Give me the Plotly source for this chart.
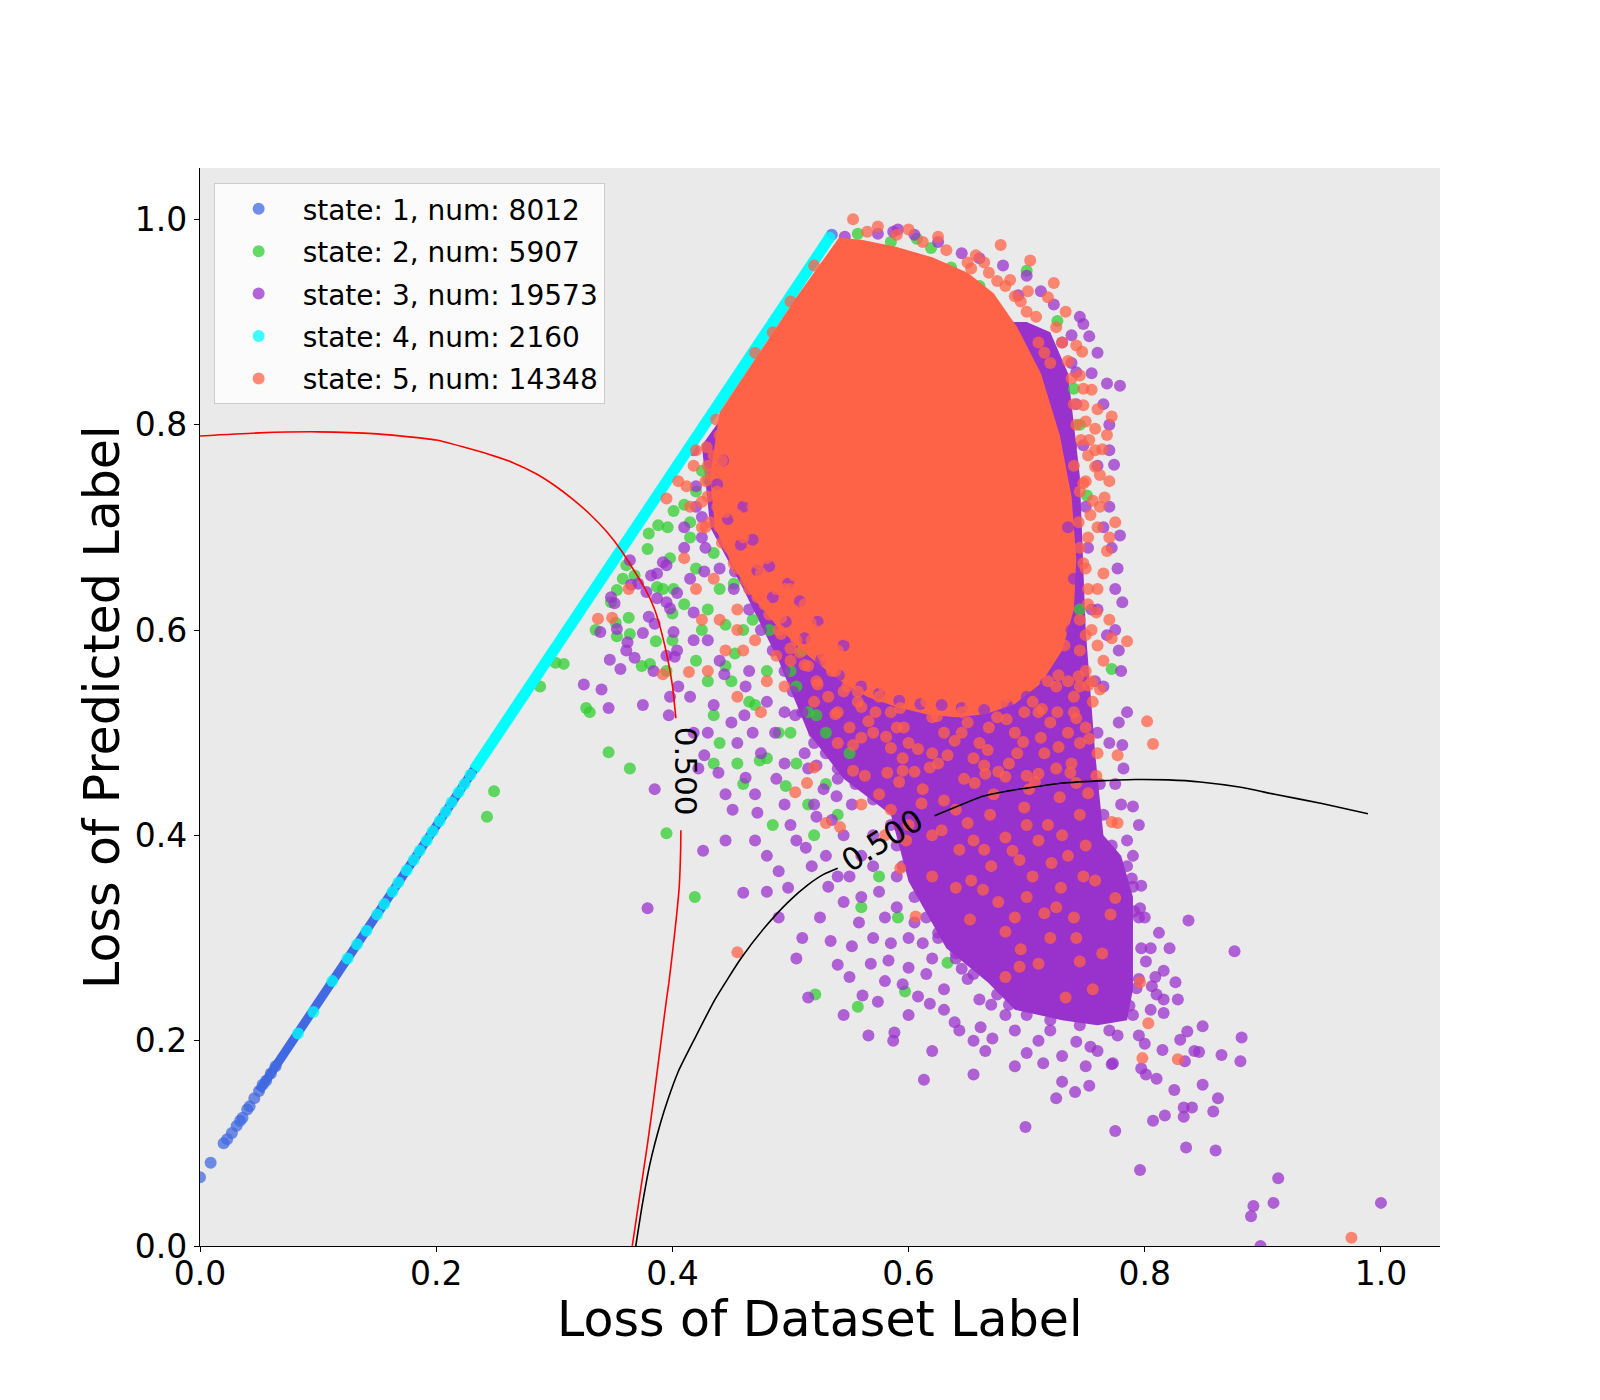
import plotly.graph_objects as go

FONT = "DejaVu Sans"

# legend text
state_ids = [1, 2, 3, 4, 5]
state_counts = [8012, 5907, 19573, 2160, 14348]

# axis ticks and titles
tick_vals = [0.0, 0.2, 0.4, 0.6, 0.8, 1.0]
tick_labels = ["0.0", "0.2", "0.4", "0.6", "0.8", "1.0"]
x_title = "Loss of Dataset Label"
y_title = "Loss of Predicted Label"

# ---- state 1 (blue): dense band on the diagonal + sparse points at its low end
s1_band_x = [0.050, 0.533]
s1_band_y = [0.151, 0.982]
s1_pts = [
    (0.000, 0.067), (0.009, 0.081), (0.020, 0.100), (0.023, 0.104), (0.027, 0.110),
    (0.031, 0.117), (0.034, 0.122), (0.036, 0.125), (0.040, 0.133), (0.042, 0.136),
    (0.046, 0.144), (0.050, 0.151), (0.053, 0.157), (0.056, 0.161), (0.060, 0.168),
    (0.064, 0.175), (0.535, 0.985),
]

# ---- state 2 (green)
s2_pts = [
    (0.243, 0.418), (0.249, 0.443), (0.288, 0.545), (0.301, 0.568), (0.308, 0.567),
    (0.327, 0.524), (0.330, 0.520), (0.335, 0.600), (0.346, 0.481), (0.364, 0.465),
    (0.352, 0.607), (0.353, 0.594), (0.363, 0.612), (0.364, 0.596), (0.348, 0.627),
    (0.353, 0.639), (0.358, 0.650), (0.368, 0.653), (0.361, 0.663), (0.374, 0.565),
    (0.381, 0.567), (0.386, 0.589), (0.387, 0.642), (0.401, 0.640), (0.400, 0.616),
    (0.400, 0.590), (0.379, 0.679), (0.380, 0.694), (0.388, 0.702), (0.396, 0.700),
    (0.395, 0.402), (0.419, 0.340), (0.401, 0.716), (0.410, 0.722), (0.420, 0.735),
    (0.430, 0.746), (0.415, 0.705), (0.420, 0.660), (0.430, 0.620), (0.440, 0.640),
    (0.453, 0.577), (0.470, 0.527), (0.474, 0.473), (0.496, 0.448), (0.522, 0.517),
    (0.435, 0.517), (0.460, 0.600), (0.480, 0.560), (0.500, 0.500), (0.510, 0.580),
    (0.490, 0.620), (0.450, 0.550), (0.440, 0.490), (0.460, 0.450), (0.470, 0.680),
    (0.455, 0.700), (0.445, 0.605), (0.420, 0.570), (0.430, 0.550), (0.530, 0.450),
    (0.540, 0.420), (0.520, 0.400), (0.550, 0.480), (0.505, 0.470), (0.515, 0.430),
    (0.485, 0.410), (0.505, 0.635), (0.525, 0.590), (0.521, 0.245), (0.557, 0.233),
    (0.597, 0.248), (0.633, 0.276), (0.591, 0.320), (0.560, 0.330), (0.575, 0.360),
    (0.557, 0.986), (0.585, 0.978), (0.607, 0.981), (0.619, 0.972), (0.636, 0.953),
    (0.660, 0.935), (0.700, 0.950), (0.726, 0.901), (0.740, 0.835), (0.745, 0.800),
    (0.751, 0.731), (0.730, 0.660), (0.745, 0.620), (0.772, 0.562), (0.395, 0.560),
    (0.425, 0.755), (0.415, 0.690), (0.435, 0.675), (0.452, 0.645), (0.468, 0.610),
    (0.482, 0.600), (0.445, 0.565), (0.465, 0.530), (0.490, 0.500), (0.505, 0.545),
    (0.425, 0.600), (0.410, 0.625), (0.398, 0.670), (0.392, 0.640), (0.435, 0.470),
    (0.455, 0.470), (0.515, 0.520), (0.530, 0.500), (0.480, 0.475), (0.500, 0.560),
]

# ---- state 3 (purple): outline of the dense region + scattered points
s3_core_x = [0.425, 0.432, 0.460, 0.490, 0.515, 0.545, 0.585, 0.600, 0.632, 0.667,
             0.690, 0.730, 0.760, 0.785, 0.790, 0.790, 0.780, 0.765, 0.758, 0.750,
             0.745, 0.735, 0.720, 0.700, 0.600, 0.500]
s3_core_y = [0.780, 0.700, 0.640, 0.570, 0.500, 0.455, 0.420, 0.355, 0.290, 0.257,
             0.230, 0.220, 0.215, 0.220, 0.250, 0.340, 0.380, 0.400, 0.480, 0.600,
             0.750, 0.850, 0.890, 0.900, 0.900, 0.900]
s3_pts = [
    # left of the cloud, next to the diagonal
    (0.339, 0.598), (0.353, 0.601), (0.362, 0.588), (0.361, 0.580), (0.368, 0.573),
    (0.347, 0.571), (0.356, 0.562), (0.340, 0.542), (0.384, 0.560), (0.375, 0.597),
    (0.380, 0.613), (0.385, 0.606), (0.348, 0.632), (0.351, 0.626), (0.365, 0.644),
    (0.371, 0.645), (0.378, 0.637), (0.382, 0.653), (0.387, 0.655), (0.395, 0.663),
    (0.392, 0.666), (0.387, 0.631), (0.395, 0.627), (0.398, 0.621), (0.404, 0.636),
    (0.401, 0.598), (0.404, 0.580), (0.395, 0.575), (0.402, 0.574), (0.405, 0.545),
    (0.398, 0.535), (0.364, 0.668), (0.325, 0.547), (0.346, 0.524), (0.375, 0.527),
    (0.397, 0.517), (0.418, 0.500), (0.435, 0.527), (0.444, 0.557), (0.427, 0.478),
    (0.461, 0.517), (0.487, 0.500), (0.513, 0.388), (0.522, 0.418), (0.539, 0.438),
    (0.548, 0.468), (0.522, 0.468), (0.504, 0.517), (0.539, 0.517), (0.530, 0.557),
    (0.427, 0.657), (0.453, 0.657), (0.418, 0.617), (0.410, 0.680), (0.425, 0.690),
    (0.415, 0.650), (0.430, 0.590), (0.465, 0.560), (0.480, 0.530), (0.495, 0.470),
    (0.475, 0.480), (0.455, 0.490), (0.520, 0.490), (0.535, 0.480), (0.545, 0.400),
    (0.530, 0.380), (0.550, 0.360), (0.420, 0.720), (0.432, 0.745), (0.410, 0.700),
    (0.418, 0.590), (0.440, 0.570), (0.462, 0.545), (0.495, 0.520), (0.512, 0.480),
    (0.488, 0.455), (0.468, 0.500), (0.450, 0.510), (0.430, 0.500), (0.415, 0.535),
    (0.422, 0.465), (0.445, 0.440), (0.470, 0.440), (0.495, 0.430),
    # along the edge of the dense region
    (0.418, 0.775), (0.420, 0.740), (0.425, 0.710), (0.428, 0.680), (0.440, 0.660),
    (0.452, 0.640), (0.465, 0.620), (0.475, 0.600), (0.485, 0.580), (0.495, 0.560),
    (0.502, 0.540), (0.510, 0.520), (0.520, 0.500), (0.530, 0.480), (0.540, 0.465),
    (0.555, 0.450), (0.570, 0.435), (0.585, 0.410), (0.590, 0.390), (0.595, 0.370),
    (0.605, 0.340), (0.615, 0.320), (0.625, 0.300), (0.640, 0.280), (0.655, 0.265),
    (0.675, 0.245), (0.685, 0.235), (0.700, 0.225), (0.720, 0.220), (0.745, 0.215),
    (0.770, 0.210), (0.790, 0.225), (0.795, 0.260), (0.797, 0.290), (0.795, 0.320),
    (0.790, 0.350), (0.785, 0.370), (0.772, 0.390), (0.765, 0.420), (0.762, 0.450),
    (0.760, 0.500), (0.758, 0.550), (0.755, 0.620), (0.752, 0.680), (0.750, 0.720),
    (0.748, 0.780), (0.742, 0.820), (0.738, 0.860), (0.730, 0.880),
    # lower middle
    (0.379, 0.329), (0.385, 0.445), (0.460, 0.344), (0.426, 0.385), (0.451, 0.425),
    (0.439, 0.461), (0.462, 0.456), (0.472, 0.422), (0.498, 0.349), (0.534, 0.297),
    (0.540, 0.274), (0.552, 0.292), (0.568, 0.275), (0.583, 0.278), (0.600, 0.271),
    (0.515, 0.242), (0.561, 0.244), (0.574, 0.238), (0.566, 0.205), (0.588, 0.208),
    (0.587, 0.200), (0.613, 0.162), (0.608, 0.243), (0.618, 0.236), (0.639, 0.218),
    (0.643, 0.210), (0.655, 0.167), (0.661, 0.213), (0.671, 0.202), (0.682, 0.225),
    (0.700, 0.188), (0.714, 0.178), (0.741, 0.150), (0.753, 0.156), (0.742, 0.199),
    (0.754, 0.194), (0.773, 0.178), (0.699, 0.116), (0.725, 0.144), (0.620, 0.190),
    (0.630, 0.250), (0.650, 0.260), (0.660, 0.240), (0.600, 0.300), (0.620, 0.280),
    (0.580, 0.320), (0.560, 0.340), (0.540, 0.360), (0.570, 0.370), (0.590, 0.330),
    (0.645, 0.270), (0.670, 0.235), (0.690, 0.210), (0.710, 0.200), (0.730, 0.185),
    (0.720, 0.210), (0.750, 0.175), (0.760, 0.190), (0.730, 0.160), (0.510, 0.300),
    (0.490, 0.320), (0.480, 0.380), (0.500, 0.410),
    (0.515, 0.465), (0.528, 0.445), (0.540, 0.455), (0.552, 0.430), (0.535, 0.415),
    (0.520, 0.430), (0.505, 0.395), (0.518, 0.370), (0.532, 0.350), (0.545, 0.335),
    (0.558, 0.315), (0.570, 0.300), (0.585, 0.295), (0.560, 0.380), (0.570, 0.400),
    (0.575, 0.345), (0.590, 0.360), (0.605, 0.315), (0.612, 0.295), (0.625, 0.305),
    (0.640, 0.285), (0.655, 0.280), (0.615, 0.265), (0.595, 0.255), (0.580, 0.258),
    (0.550, 0.262), (0.525, 0.320), (0.490, 0.365), (0.470, 0.395), (0.480, 0.345),
    (0.445, 0.395), (0.505, 0.280), (0.545, 0.225), (0.630, 0.230), (0.665, 0.190),
    (0.690, 0.175), (0.655, 0.200), (0.600, 0.225),
    # lower right tail
    (0.837, 0.317), (0.876, 0.287), (0.821, 0.290), (0.801, 0.277), (0.816, 0.268),
    (0.826, 0.257), (0.828, 0.240), (0.816, 0.240), (0.816, 0.227), (0.849, 0.214),
    (0.882, 0.203), (0.881, 0.180), (0.865, 0.186), (0.846, 0.189), (0.842, 0.190),
    (0.836, 0.209), (0.830, 0.201), (0.834, 0.180), (0.849, 0.157), (0.862, 0.144),
    (0.858, 0.131), (0.833, 0.135), (0.840, 0.135), (0.833, 0.126), (0.825, 0.152),
    (0.817, 0.127), (0.807, 0.122), (0.810, 0.163), (0.801, 0.167), (0.797, 0.173),
    (0.772, 0.177), (0.775, 0.112), (0.796, 0.074), (0.835, 0.096), (0.860, 0.093),
    (0.913, 0.066), (0.909, 0.042), (0.892, 0.039), (0.890, 0.029), (0.898, 0.000),
    (1.000, 0.042), (0.797, 0.351), (0.789, 0.358), (0.791, 0.326), (0.796, 0.329),
    (0.787, 0.234), (0.795, 0.205), (0.800, 0.197), (0.777, 0.205), (0.793, 0.251),
    (0.809, 0.262), (0.806, 0.253), (0.815, 0.191), (0.805, 0.230), (0.810, 0.245),
    (0.805, 0.290), (0.812, 0.305), (0.800, 0.320), (0.785, 0.395), (0.795, 0.410),
    (0.780, 0.430), (0.790, 0.380),
    # right and top fringe
    (0.779, 0.838), (0.753, 0.886), (0.774, 0.761), (0.779, 0.692), (0.781, 0.627),
    (0.777, 0.660), (0.770, 0.720), (0.781, 0.488), (0.785, 0.520), (0.780, 0.560),
    (0.775, 0.600), (0.770, 0.800), (0.765, 0.820), (0.775, 0.450), (0.790, 0.428),
    (0.777, 0.313), (0.723, 0.917), (0.738, 0.887), (0.742, 0.851), (0.693, 0.926),
    (0.645, 0.967), (0.587, 0.988), (0.574, 0.986), (0.546, 0.983), (0.591, 0.990),
    (0.760, 0.760), (0.770, 0.775), (0.765, 0.700), (0.772, 0.680), (0.760, 0.620),
    (0.775, 0.640), (0.768, 0.595), (0.778, 0.580), (0.765, 0.545), (0.778, 0.510),
    (0.770, 0.490), (0.782, 0.465), (0.760, 0.870), (0.748, 0.898), (0.755, 0.850),
    (0.768, 0.840), (0.745, 0.905), (0.712, 0.930), (0.700, 0.945), (0.680, 0.955),
    (0.660, 0.962), (0.625, 0.978), (0.605, 0.985),
]
# purple points that show through the edge of the orange core
s3_peek_pts = [
    (0.438, 0.742), (0.447, 0.708), (0.458, 0.683), (0.460, 0.720), (0.472, 0.658),
    (0.468, 0.688), (0.485, 0.632), (0.482, 0.662), (0.496, 0.608), (0.498, 0.645),
    (0.512, 0.592), (0.508, 0.628), (0.526, 0.571), (0.523, 0.608), (0.541, 0.556),
    (0.545, 0.585), (0.560, 0.545), (0.575, 0.538), (0.592, 0.531), (0.610, 0.528),
    (0.628, 0.527), (0.645, 0.524), (0.664, 0.522), (0.683, 0.528), (0.700, 0.535),
    (0.716, 0.548), (0.730, 0.565), (0.738, 0.600), (0.443, 0.765), (0.735, 0.700),
    (0.738, 0.780), (0.728, 0.840), (0.740, 0.650),
]

# ---- state 4 (cyan): dense band on the diagonal + single points lower down
s4_band_x = [0.232, 0.533]
s4_band_y = [0.464, 0.982]
s4_pts = [
    (0.083, 0.207), (0.096, 0.228), (0.112, 0.258), (0.125, 0.280), (0.133, 0.294),
    (0.141, 0.307), (0.150, 0.323), (0.156, 0.333), (0.163, 0.345), (0.168, 0.354),
    (0.175, 0.366), (0.181, 0.376), (0.186, 0.385), (0.192, 0.395), (0.197, 0.404),
    (0.203, 0.414), (0.208, 0.423), (0.213, 0.432), (0.219, 0.442), (0.224, 0.450),
    (0.229, 0.459), (0.533, 0.982),
]

# ---- state 5 (orange): outline of the solid core + scattered points
s5_core_x = [0.541, 0.560, 0.590, 0.620, 0.650, 0.672, 0.692, 0.712, 0.728, 0.738,
             0.742, 0.740, 0.730, 0.712, 0.690, 0.665, 0.640, 0.615, 0.590, 0.565,
             0.540, 0.515, 0.490, 0.468, 0.450, 0.436, 0.432, 0.440, 0.505]
s5_core_y = [0.982, 0.980, 0.973, 0.963, 0.948, 0.928, 0.895, 0.850, 0.790, 0.730,
             0.670, 0.620, 0.580, 0.548, 0.528, 0.518, 0.515, 0.518, 0.525, 0.535,
             0.552, 0.575, 0.602, 0.632, 0.665, 0.700, 0.750, 0.812, 0.924]
s5_pts = [
    # top and right fringe
    (0.553, 1.000), (0.574, 0.993), (0.600, 0.990), (0.625, 0.983), (0.657, 0.965),
    (0.678, 0.975), (0.686, 0.941), (0.701, 0.930), (0.703, 0.960), (0.718, 0.924),
    (0.723, 0.938), (0.664, 0.958), (0.653, 0.952), (0.733, 0.910), (0.742, 0.877),
    (0.747, 0.871), (0.755, 0.834), (0.748, 0.819), (0.750, 0.803), (0.758, 0.796),
    (0.753, 0.785), (0.758, 0.759), (0.748, 0.743), (0.756, 0.726), (0.772, 0.808),
    (0.764, 0.776), (0.762, 0.751), (0.766, 0.729), (0.768, 0.677), (0.759, 0.617),
    (0.772, 0.592), (0.785, 0.589), (0.802, 0.511), (0.807, 0.489), (0.777, 0.478),
    (0.759, 0.458), (0.772, 0.413), (0.762, 0.542), (0.730, 0.880), (0.720, 0.860),
    (0.740, 0.760), (0.745, 0.680), (0.745, 0.580), (0.740, 0.520), (0.700, 0.910),
    (0.690, 0.925), (0.675, 0.940), (0.710, 0.880), (0.760, 0.700), (0.750, 0.660),
    (0.760, 0.640), (0.755, 0.600), (0.750, 0.560), (0.765, 0.570), (0.725, 0.895),
    (0.735, 0.862), (0.745, 0.848), (0.742, 0.800), (0.745, 0.735), (0.752, 0.690),
    (0.752, 0.640), (0.745, 0.610), (0.760, 0.585), (0.755, 0.550), (0.770, 0.610),
    (0.765, 0.655), (0.770, 0.690), (0.775, 0.705), (0.762, 0.720), (0.770, 0.745),
    (0.758, 0.775), (0.768, 0.790), (0.760, 0.815), (0.748, 0.835), (0.738, 0.845),
    (0.715, 0.870), (0.708, 0.905), (0.695, 0.920), (0.682, 0.935), (0.668, 0.948),
    (0.650, 0.958), (0.632, 0.970), (0.612, 0.978), (0.590, 0.985), (0.565, 0.988),
    (0.748, 0.665), (0.744, 0.705), (0.750, 0.745), (0.746, 0.785), (0.740, 0.820),
    (0.750, 0.595), (0.745, 0.545), (0.752, 0.625), (0.754, 0.712), (0.752, 0.770),
    # along the diagonal near the top
    (0.470, 0.870), (0.485, 0.890), (0.500, 0.920), (0.520, 0.955),
    # lower left of the core, mixed with green and purple
    (0.440, 0.790), (0.435, 0.770), (0.445, 0.750), (0.430, 0.730), (0.450, 0.720),
    (0.440, 0.700), (0.460, 0.690), (0.470, 0.710), (0.455, 0.660), (0.470, 0.640),
    (0.480, 0.670), (0.490, 0.690), (0.500, 0.640), (0.490, 0.600), (0.510, 0.610),
    (0.520, 0.600), (0.500, 0.570), (0.530, 0.570), (0.540, 0.580), (0.550, 0.550),
    (0.560, 0.570), (0.520, 0.530), (0.480, 0.550), (0.460, 0.580), (0.440, 0.610),
    (0.420, 0.640), (0.410, 0.670), (0.425, 0.700), (0.415, 0.720), (0.430, 0.760),
    (0.405, 0.745), (0.395, 0.728), (0.420, 0.775),
    (0.414, 0.559), (0.392, 0.557), (0.337, 0.611), (0.349, 0.612), (0.363, 0.640),
    (0.448, 0.780), (0.442, 0.765), (0.450, 0.740), (0.458, 0.755), (0.462, 0.730),
    (0.455, 0.712), (0.468, 0.700), (0.478, 0.685), (0.472, 0.665), (0.485, 0.650),
    (0.495, 0.640), (0.502, 0.620), (0.512, 0.625), (0.478, 0.625), (0.465, 0.640),
    (0.448, 0.680), (0.438, 0.720), (0.428, 0.700), (0.435, 0.650), (0.425, 0.610),
    (0.455, 0.600), (0.470, 0.590), (0.488, 0.575), (0.505, 0.590), (0.515, 0.565),
    (0.495, 0.545), (0.475, 0.520), (0.455, 0.535), (0.430, 0.560), (0.445, 0.580),
    (0.528, 0.600), (0.418, 0.760), (0.412, 0.740), (0.428, 0.745), (0.438, 0.735),
    (0.425, 0.725), (0.445, 0.715), (0.432, 0.705), (0.455, 0.695), (0.442, 0.685),
    (0.465, 0.675), (0.452, 0.665), (0.475, 0.655), (0.462, 0.648), (0.488, 0.640),
    (0.472, 0.632), (0.498, 0.625), (0.482, 0.615), (0.508, 0.605), (0.492, 0.596),
    (0.518, 0.590), (0.500, 0.582), (0.528, 0.575), (0.512, 0.566), (0.538, 0.560),
    (0.522, 0.550), (0.548, 0.545), (0.532, 0.535), (0.557, 0.530), (0.468, 0.720),
    (0.478, 0.735), (0.495, 0.700), (0.505, 0.670), (0.520, 0.650), (0.530, 0.630),
    (0.545, 0.600), (0.455, 0.620),
    (0.492, 0.612), (0.517, 0.607), (0.478, 0.642), (0.503, 0.653), (0.466, 0.668),
    (0.489, 0.677), (0.452, 0.693), (0.476, 0.706), (0.442, 0.728), (0.464, 0.742),
    (0.433, 0.752), (0.452, 0.771), (0.429, 0.778), (0.445, 0.795), (0.437, 0.805),
    # middle, on top of the purple
    (0.455, 0.286), (0.530, 0.412), (0.542, 0.408), (0.504, 0.442), (0.593, 0.368),
    (0.606, 0.321), (0.695, 0.289), (0.715, 0.324), (0.694, 0.272), (0.682, 0.306),
    (0.663, 0.347), (0.653, 0.356), (0.640, 0.349), (0.729, 0.349), (0.710, 0.395),
    (0.694, 0.376), (0.721, 0.373), (0.682, 0.398), (0.664, 0.386), (0.643, 0.386),
    (0.650, 0.412), (0.669, 0.420), (0.698, 0.427), (0.728, 0.437), (0.742, 0.451),
    (0.752, 0.441), (0.682, 0.457), (0.656, 0.451), (0.630, 0.434), (0.611, 0.431),
    (0.595, 0.463), (0.582, 0.461), (0.553, 0.463), (0.520, 0.466), (0.514, 0.451),
    (0.569, 0.548), (0.733, 0.242), (0.756, 0.250), (0.745, 0.277), (0.764, 0.285),
    (0.771, 0.323), (0.775, 0.339), (0.758, 0.356), (0.777, 0.412),
    (0.570, 0.500), (0.585, 0.520), (0.600, 0.490), (0.615, 0.530), (0.630, 0.500),
    (0.645, 0.520), (0.660, 0.490), (0.675, 0.515), (0.690, 0.500), (0.705, 0.530),
    (0.720, 0.510), (0.580, 0.555), (0.610, 0.565), (0.640, 0.560), (0.670, 0.550),
    (0.700, 0.555), (0.725, 0.545), (0.595, 0.475), (0.625, 0.470), (0.655, 0.475),
    (0.685, 0.470), (0.715, 0.480), (0.560, 0.525), (0.550, 0.505), (0.545, 0.540),
    (0.735, 0.500), (0.740, 0.535), (0.600, 0.410), (0.620, 0.400), (0.700, 0.410),
    (0.710, 0.460), (0.670, 0.370), (0.700, 0.340), (0.720, 0.300), (0.740, 0.320),
    (0.730, 0.400), (0.620, 0.360), (0.580, 0.400), (0.560, 0.430), (0.575, 0.440),
    (0.540, 0.490), (0.750, 0.390), (0.760, 0.480), (0.745, 0.420),
    (0.525, 0.585), (0.535, 0.560), (0.548, 0.595), (0.557, 0.540), (0.566, 0.575),
    (0.572, 0.520), (0.578, 0.590), (0.588, 0.545), (0.596, 0.505), (0.603, 0.580),
    (0.612, 0.548), (0.620, 0.515), (0.628, 0.590), (0.636, 0.535), (0.645, 0.500),
    (0.652, 0.575), (0.660, 0.540), (0.668, 0.505), (0.676, 0.580), (0.684, 0.535),
    (0.692, 0.480), (0.698, 0.520), (0.706, 0.575), (0.712, 0.495), (0.718, 0.550),
    (0.726, 0.520), (0.732, 0.585), (0.738, 0.470), (0.744, 0.555), (0.750, 0.505),
    (0.756, 0.530), (0.540, 0.520), (0.605, 0.462), (0.633, 0.478), (0.664, 0.468),
    (0.700, 0.458), (0.725, 0.465), (0.585, 0.485), (0.560, 0.495), (0.690, 0.592),
    (0.575, 0.535), (0.590, 0.505), (0.620, 0.540), (0.650, 0.510), (0.680, 0.530),
    (0.710, 0.520), (0.735, 0.550), (0.745, 0.490), (0.620, 0.480), (0.665, 0.460),
    (0.563, 0.458), (0.592, 0.452), (0.618, 0.466), (0.647, 0.455), (0.676, 0.462),
    (0.707, 0.452), (0.737, 0.461), (0.553, 0.488), (0.581, 0.496), (0.608, 0.484),
    (0.639, 0.492), (0.667, 0.483), (0.697, 0.491), (0.727, 0.486), (0.753, 0.494),
    (0.538, 0.518), (0.566, 0.511), (0.593, 0.524), (0.624, 0.516), (0.652, 0.525),
    (0.683, 0.513), (0.713, 0.523), (0.742, 0.514), (0.523, 0.547), (0.551, 0.556),
    (0.579, 0.545), (0.607, 0.553), (0.637, 0.546), (0.666, 0.557), (0.697, 0.548),
    (0.727, 0.556), (0.752, 0.546), (0.508, 0.578), (0.534, 0.586), (0.563, 0.577),
    (0.592, 0.569), (0.622, 0.578), (0.655, 0.566), (0.684, 0.572),
    (0.612, 0.445), (0.628, 0.405), (0.640, 0.425), (0.655, 0.395), (0.672, 0.440),
    (0.688, 0.385), (0.702, 0.445), (0.718, 0.410), (0.735, 0.380), (0.748, 0.360),
    (0.705, 0.360), (0.676, 0.335), (0.652, 0.318), (0.690, 0.320), (0.725, 0.330),
    (0.742, 0.300), (0.710, 0.275), (0.682, 0.262), (0.598, 0.395), (0.585, 0.425),
    # isolated ones at the bottom right
    (0.975, 0.008), (0.798, 0.183), (0.828, 0.182), (0.803, 0.217), (0.796, 0.257),
]

# ---- 0.5 contour lines (None = gap for the inline label)
red_x = [0.000, 0.050, 0.100, 0.150, 0.200, 0.245, 0.265, 0.285, 0.300, 0.315,
         0.330, 0.345, 0.357, 0.368, 0.377, 0.385, 0.391, 0.396, 0.400, 0.403, None,
         0.4072, 0.4070, 0.4058, 0.4035, 0.4005, 0.3970, 0.3950, 0.3905, 0.3840,
         0.3790, 0.3725, 0.3660]
red_y = [0.789, 0.792, 0.793, 0.791, 0.785, 0.771, 0.763, 0.752, 0.741, 0.728,
         0.713, 0.695, 0.677, 0.657, 0.640, 0.620, 0.597, 0.572, 0.546, 0.514, None,
         0.405, 0.386, 0.350, 0.321, 0.290, 0.256, 0.240, 0.200, 0.142,
         0.100, 0.050, 0.000]
black_x = [0.369, 0.3745, 0.381, 0.390, 0.396, 0.405, 0.418, 0.436, 0.458, 0.478,
           0.498, 0.515, 0.528, 0.540, None,
           0.622, 0.645, 0.663, 0.683, 0.700, 0.727, 0.760, 0.792, 0.820, 0.847,
           0.880, 0.910, 0.950, 0.989]
black_y = [0.000, 0.040, 0.080, 0.120, 0.142, 0.170, 0.200, 0.240, 0.280, 0.310,
           0.335, 0.352, 0.362, 0.368, None,
           0.419, 0.430, 0.438, 0.443, 0.446, 0.4505, 0.453, 0.4544, 0.454, 0.452,
           0.447, 0.440, 0.431, 0.421]
label_x = [0.4115, 0.578]
label_y = [0.462, 0.395]
label_angle = [90, -32]

colors = {
    1: (65, 105, 225),   # royalblue
    2: (50, 205, 50),    # limegreen
    3: (153, 50, 204),   # darkorchid
    4: (0, 255, 255),    # cyan
    5: (255, 99, 71),    # tomato
}


def rgba(c, a=1.0):
    return "rgba(%d,%d,%d,%.2f)" % (c[0], c[1], c[2], a)


def xs(pts):
    return [p[0] for p in pts]


def ys(pts):
    return [p[1] for p in pts]


def band(x, y, sid, width):
    return go.Scatter(x=x, y=y, mode="lines", line=dict(color=rgba(colors[sid]), width=width),
                      showlegend=False, hoverinfo="skip")


def core(x, y, sid):
    return go.Scatter(x=x, y=y, mode="lines", fill="toself", fillcolor=rgba(colors[sid]),
                      line=dict(width=0, color=rgba(colors[sid])),
                      showlegend=False, hoverinfo="skip")


def points(pts, sid, legend=True):
    i = state_ids.index(sid)
    return go.Scatter(x=xs(pts), y=ys(pts), mode="markers",
                      marker=dict(size=12, color=rgba(colors[sid], 0.75), line=dict(width=0)),
                      name="state: %d, num: %d" % (sid, state_counts[i]),
                      legendgroup="s%d" % sid, showlegend=legend)


fig = go.Figure()
fig.add_trace(band(s1_band_x, s1_band_y, 1, 9))
fig.add_trace(points(s1_pts, 1))
fig.add_trace(core(s3_core_x, s3_core_y, 3))
fig.add_trace(points(s2_pts, 2))
fig.add_trace(points(s3_pts, 3))
fig.add_trace(band(s4_band_x, s4_band_y, 4, 11))
fig.add_trace(points(s4_pts, 4))
fig.add_trace(core(s5_core_x, s5_core_y, 5))
fig.add_trace(points(s3_peek_pts, 3, legend=False))
fig.add_trace(points(s5_pts, 5))

# contour lines
fig.add_trace(go.Scatter(x=red_x, y=red_y, mode="lines",
                         line=dict(color="red", width=1.6, shape="spline", smoothing=0.5),
                         showlegend=False, hoverinfo="skip"))
fig.add_trace(go.Scatter(x=black_x, y=black_y, mode="lines",
                         line=dict(color="black", width=1.6, shape="spline", smoothing=0.5),
                         showlegend=False, hoverinfo="skip"))

for lx, ly, ang in zip(label_x, label_y, label_angle):
    fig.add_annotation(x=lx, y=ly, text="0.500", showarrow=False, textangle=ang,
                       xanchor="center", yanchor="middle",
                       font=dict(family=FONT, size=31, color="black"))

# axis titles as paper annotations so they sit where the reference has them
fig.add_annotation(x=0.5, y=-0.068, xref="paper", yref="paper", text=x_title,
                   showarrow=False, xanchor="center", yanchor="middle",
                   font=dict(family=FONT, size=49, color="black"))
fig.add_annotation(x=-0.079, y=0.5, xref="paper", yref="paper", text=y_title,
                   showarrow=False, textangle=-90, xanchor="center", yanchor="middle",
                   font=dict(family=FONT, size=49, color="black"))

axis_style = dict(
    range=[0, 1.05],
    tickvals=tick_vals,
    ticktext=tick_labels,
    ticks="outside",
    ticklen=5,
    tickwidth=1.1,
    tickcolor="black",
    showline=True,
    linecolor="black",
    linewidth=1.2,
    showgrid=False,
    zeroline=False,
    tickfont=dict(family=FONT, size=33, color="black"),
)

# the page adds an 8px body margin, so the margins are shifted by 8px
fig.update_layout(
    width=1600,
    height=1400,
    margin=dict(l=192, r=168, t=160, b=162),
    paper_bgcolor="white",
    plot_bgcolor="#EAEAEA",
    font=dict(family=FONT, color="black"),
    xaxis=dict(axis_style, ticklabelstandoff=-7),
    yaxis=axis_style,
    legend=dict(
        x=0.011, y=0.986, xanchor="left", yanchor="top",
        bgcolor="rgba(251,251,251,1)", bordercolor="#CCCCCC", borderwidth=1,
        font=dict(family=FONT, size=28, color="black"),
        traceorder="grouped", tracegroupgap=3, itemwidth=78,
    ),
    showlegend=True,
)

fig.write_html("out.html")
